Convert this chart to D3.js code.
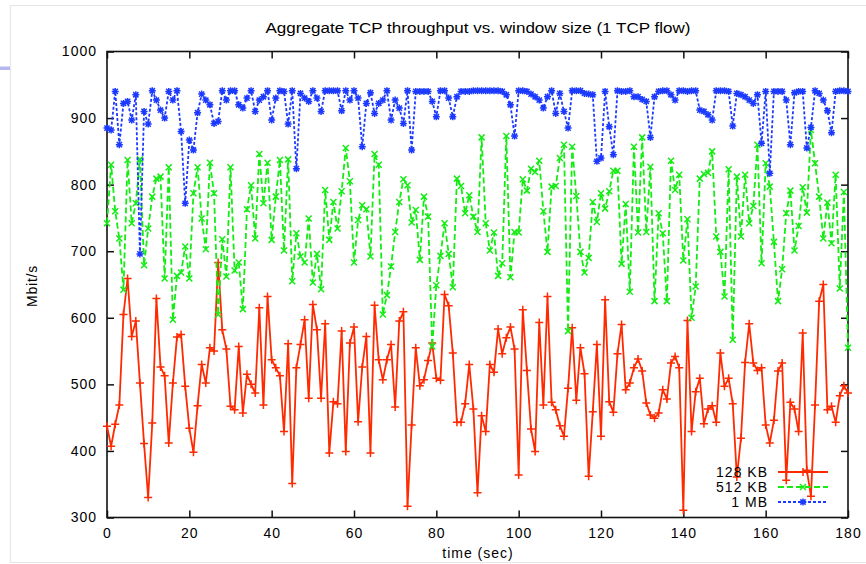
<!DOCTYPE html>
<html>
<head>
<meta charset="utf-8">
<script src="https://cdn.jsdelivr.net/npm/d3@7"></script>
<style>
  html, body { margin: 0; padding: 0; background: #fff; }
  svg { display: block; }
  text { font-family: "Liberation Sans", Arial, Helvetica, sans-serif; fill: #000; }
</style>
</head>
<body>
<svg id="chart" width="866" height="564"></svg>
<script>
// Aggregate TCP throughput, one sample per second (t = 0 … 180 s)
const seconds = d3.range(0, 181);

const kb128 = [
  437,407,440,469,605,659,572,595,502,411,330,442,629,526,513,412,502,571,575,497,
  434,398,468,530,502,555,550,683,582,553,467,462,557,457,515,500,487,615,469,632,
  537,525,513,429,561,351,525,560,597,479,620,582,479,591,397,474,471,580,399,562,
  586,444,526,572,397,619,537,507,537,560,466,595,609,317,439,555,498,507,536,562,
  509,506,635,618,547,443,443,471,530,463,337,453,429,530,518,583,546,570,586,553,
  364,612,521,433,399,593,469,632,473,462,438,422,494,585,476,555,516,362,459,560,
  422,627,474,458,546,590,492,502,525,538,520,472,454,449,457,492,478,532,542,525,
  311,596,429,489,509,441,463,468,443,547,497,509,471,361,419,533,591,532,521,525,
  439,412,446,520,532,356,473,463,429,577,371,332,469,625,650,462,467,443,483,498,
  487
];

const kb512 = [
  742,830,760,719,642,837,742,772,838,679,734,782,809,812,659,826,597,663,668,707,
  659,787,826,749,703,833,787,605,718,662,826,671,683,613,763,799,719,846,772,833,
  717,782,837,701,838,655,727,692,683,749,653,696,643,792,717,774,734,790,855,805,
  683,747,769,763,692,846,830,605,634,677,729,774,808,799,743,762,687,782,752,557,
  649,693,742,696,646,809,798,757,784,752,729,871,742,701,728,663,682,873,661,729,
  728,808,791,824,819,836,760,699,797,798,840,860,580,857,783,699,668,690,774,744,
  787,764,790,821,821,681,771,639,857,728,871,729,827,625,757,727,625,836,792,815,
  686,748,600,647,809,816,818,850,722,699,632,823,567,812,722,815,742,768,860,682,
  832,797,714,625,673,757,791,701,738,796,758,882,832,782,719,773,712,815,644,789,
  555
];

const mb1 = [
  885,882,940,860,922,925,897,935,696,910,891,941,927,912,900,940,927,941,880,772,
  867,852,908,936,927,920,892,895,941,927,941,941,920,915,930,941,910,927,932,941,
  897,930,941,940,891,941,824,937,930,925,941,930,910,941,941,941,941,911,941,927,
  941,930,857,922,938,907,922,927,941,897,927,915,892,941,852,940,940,940,940,925,
  902,941,941,930,902,932,940,940,940,941,941,941,941,941,941,941,940,935,920,873,
  941,941,940,936,932,927,915,932,941,907,937,910,885,941,941,941,937,936,935,835,
  840,940,887,845,941,940,940,941,932,932,928,925,871,932,940,941,941,935,927,941,
  941,940,941,941,912,910,905,897,941,941,941,940,888,937,935,932,927,922,935,862,
  940,817,940,940,940,927,860,938,940,940,855,886,941,937,927,911,878,940,941,941,
  940
];

const xTicks = [0, 20, 40, 60, 80, 100, 120, 140, 160, 180];
const yTicks = [300, 400, 500, 600, 700, 800, 900, 1000];
const seriesNames = ["128 KB", "512 KB", "1 MB"];
const chartTitle = "Aggregate TCP throughput  vs. window size (1 TCP flow)";
const xTitle = "time (sec)";
const yTitle = "Mbit/s";

(function draw() {
  const svg = d3.select("#chart");

  // slide frame around the plot
  svg.append("rect").attr("x", 0).attr("y", 0).attr("width", 866).attr("height", 564).attr("fill", "#fff");
  svg.append("path")
    .attr("d", "M866,5.5 H10.5 V562.5 H866")
    .attr("fill", "none").attr("stroke", "#e6e6e6").attr("stroke-width", 1.2);
  svg.append("rect").attr("x", 0).attr("y", 66.5).attr("width", 10).attr("height", 3.5).attr("fill", "#b4b8f0");

  const pLeft = 107, pRight = 848, pTop = 51.5, pBottom = 517.5;
  const x = d3.scaleLinear().domain([0, 180]).range([pLeft, pRight]);
  const y = d3.scaleLinear().domain([300, 1000]).range([pBottom, pTop]);

  const axisFont = 14;
  function styleAxis(g) {
    g.select(".domain").remove();
    g.selectAll(".tick line").attr("stroke", "#111").attr("stroke-width", 1.5);
    g.selectAll("text").style("font-size", axisFont + "px").style("letter-spacing", "1px")
      .attr("fill", "#000");
  }

  svg.append("g").attr("transform", `translate(0,${pBottom})`)
    .call(d3.axisBottom(x).tickValues(xTicks).tickSize(-7).tickPadding(11).tickFormat(d3.format("d")))
    .call(styleAxis);
  svg.append("g").attr("transform", `translate(0,${pTop})`)
    .call(d3.axisTop(x).tickValues(xTicks).tickSize(-7).tickFormat(""))
    .call(styleAxis);
  svg.append("g").attr("transform", `translate(${pLeft},0)`)
    .call(d3.axisLeft(y).tickValues(yTicks).tickSize(-7).tickPadding(10).tickFormat(d3.format("d")))
    .call(styleAxis);
  svg.append("g").attr("transform", `translate(${pRight},0)`)
    .call(d3.axisRight(y).tickValues(yTicks).tickSize(-7).tickFormat(""))
    .call(styleAxis);

  // plot border
  svg.append("rect")
    .attr("x", pLeft).attr("y", pTop).attr("width", pRight - pLeft).attr("height", pBottom - pTop)
    .attr("fill", "none").attr("stroke", "#111").attr("stroke-width", 1.6);

  // marker shapes
  const plusPath = s => `M${-s},0H${s}M0,${-s}V${s}`;
  const crossPath = s => `M${-s},${-s}L${s},${s}M${-s},${s}L${s},${-s}`;
  const starPath = s => plusPath(s) + crossPath(s * 0.75);

  const series = [
    { name: seriesNames[0], values: kb128, color: "#ff2a00", dash: null,  marker: plusPath(4) },
    { name: seriesNames[1], values: kb512, color: "#14ec14", dash: "6,3", marker: crossPath(3) },
    { name: seriesNames[2], values: mb1,   color: "#1c3aff", dash: "3,2", marker: starPath(3.5) }
  ];

  const line = d3.line().x(d => x(d[0])).y(d => y(d[1]));
  const plot = svg.append("g");

  series.forEach(s => {
    const pts = seconds.map((t, i) => [t, s.values[i]]);
    const g = plot.append("g");
    g.append("path")
      .attr("d", line(pts))
      .attr("fill", "none")
      .attr("stroke", s.color)
      .attr("stroke-width", 1.8)
      .attr("stroke-dasharray", s.dash);
    g.selectAll("path.mk").data(pts).join("path")
      .attr("class", "mk")
      .attr("transform", d => `translate(${x(d[0])},${y(d[1])})`)
      .attr("d", s.marker)
      .attr("fill", "none")
      .attr("stroke", s.color)
      .attr("stroke-width", 1.5);
  });

  // key, bottom right inside the plot
  const key = svg.append("g");
  series.forEach((s, i) => {
    const ky = 472 + i * 15;
    key.append("text")
      .attr("x", 768).attr("y", ky).attr("dy", "0.35em")
      .attr("text-anchor", "end")
      .style("font-size", axisFont + "px").style("letter-spacing", "1px")
      .text(s.name);
    key.append("path")
      .attr("d", `M778,${ky}H828`)
      .attr("stroke", s.color).attr("stroke-width", 1.8)
      .attr("stroke-dasharray", s.dash).attr("fill", "none");
    key.append("path")
      .attr("transform", `translate(803,${ky})`)
      .attr("d", s.marker)
      .attr("stroke", s.color).attr("stroke-width", 1.5).attr("fill", "none");
  });

  // titles
  svg.append("text")
    .attr("x", 478).attr("y", 33).attr("text-anchor", "middle")
    .attr("textLength", 425).attr("lengthAdjust", "spacingAndGlyphs")
    .style("font-size", "14px")
    .text(chartTitle);
  svg.append("text")
    .attr("x", 478).attr("y", 558).attr("text-anchor", "middle")
    .style("font-size", axisFont + "px").style("letter-spacing", "1px")
    .text(xTitle);
  svg.append("text")
    .attr("transform", "translate(37,286) rotate(-90)")
    .attr("text-anchor", "middle")
    .style("font-size", axisFont + "px").style("letter-spacing", "0.8px")
    .text(yTitle);
})();
</script>
</body>
</html>
